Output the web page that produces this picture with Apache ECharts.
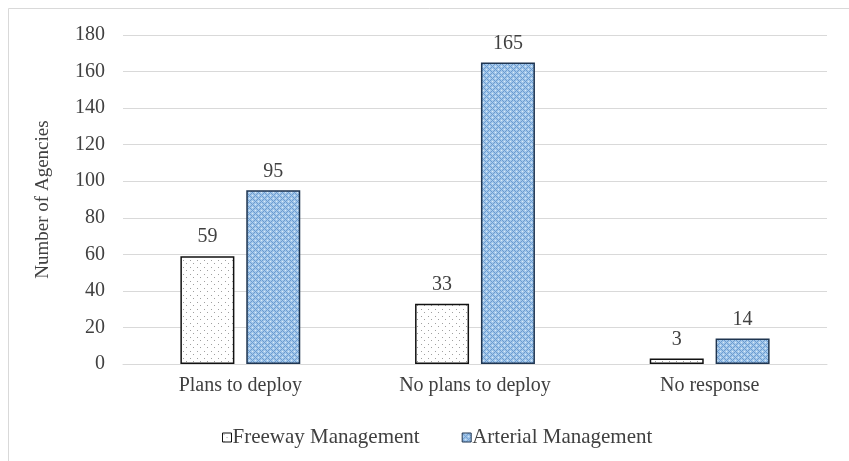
<!DOCTYPE html>
<html>
<head>
<meta charset="utf-8">
<script src="https://cdn.jsdelivr.net/npm/echarts@6/dist/echarts.min.js"></script>
<style>
  html, body { margin: 0; padding: 0; background: #fff; }
  #chart { width: 849px; height: 461px; }
</style>
</head>
<body>
<div id="chart"></div>
<script>
// Survey responses: deployment plans by agency type
const categories = ['Plans to deploy', 'No plans to deploy', 'No response'];
const freewayValues = [59, 33, 3];
const arterialValues = [95, 165, 14];
const seriesNames = ['Freeway Management', 'Arterial Management'];
const yTicks = { min: 0, max: 180, interval: 20 };

// Dotted fill for the freeway bars
function dotPattern() {
  const c = document.createElement('canvas');
  c.width = 7; c.height = 7;
  const g = c.getContext('2d');
  g.fillStyle = '#ffffff';
  g.fillRect(0, 0, 7, 7);
  g.fillStyle = '#a0a0a0';
  g.fillRect(1, 1, 1, 1);
  g.fillRect(4, 4, 1, 1);
  return c;
}

// Lattice fill for the arterial bars
function latticePattern() {
  const c = document.createElement('canvas');
  c.width = 6; c.height = 6;
  const g = c.getContext('2d');
  g.fillStyle = '#a3c7ea';
  g.fillRect(0, 0, 6, 6);
  g.fillStyle = '#6b9bd0';
  [[0,0],[1,1],[2,2],[4,2],[5,1],[3,3],[2,4],[1,5],[4,4],[5,5]].forEach(p => g.fillRect(p[0], p[1], 1, 1));
  g.fillStyle = '#dcebf8';
  g.fillRect(3, 0, 1, 1);
  g.fillRect(0, 3, 1, 1);
  return c;
}

const fontFamily = '"Liberation Serif", "Times New Roman", serif';
const textColor = '#404040';

const chart = echarts.init(document.getElementById('chart'), null, { renderer: 'canvas' });

const freewayFill = { image: dotPattern(), repeat: 'repeat' };
const arterialFill = { image: latticePattern(), repeat: 'repeat' };

chart.setOption({
  animation: false,
  backgroundColor: '#ffffff',
  graphic: [{
    type: 'rect',
    shape: { x: 8.5, y: 8.5, width: 900, height: 500 },
    style: { fill: 'none', stroke: '#d9d9d9', lineWidth: 1 },
    silent: true,
    z: -10
  }],
  grid: { left: 123, right: 22, top: 35, bottom: 97 },
  legend: {
    data: seriesNames,
    bottom: 8,
    left: 217,
    itemWidth: 9,
    itemHeight: 9,
    itemGap: 42,
    icon: 'rect',
    itemStyle: { borderWidth: 1 },
    textStyle: { fontFamily, fontSize: 21, color: textColor, padding: [0, 0, 0, -4] }
  },
  xAxis: {
    type: 'category',
    data: categories,
    axisLine: { lineStyle: { color: '#d9d9d9', width: 1 } },
    axisTick: { show: false },
    axisLabel: { fontFamily, fontSize: 20, color: textColor, margin: 12 }
  },
  yAxis: {
    type: 'value',
    min: yTicks.min,
    max: yTicks.max,
    interval: yTicks.interval,
    name: 'Number of Agencies',
    nameLocation: 'middle',
    nameGap: 70,
    nameTextStyle: { fontFamily, fontSize: 19, color: textColor },
    axisLine: { show: false },
    axisTick: { show: false },
    axisLabel: { fontFamily, fontSize: 20, color: textColor, margin: 18 },
    splitLine: { lineStyle: { color: '#d9d9d9', width: 1 } }
  },
  series: [
    {
      name: seriesNames[0],
      type: 'bar',
      data: freewayValues,
      barWidth: 54,
      barGap: '22%',
      itemStyle: { color: freewayFill, borderColor: '#111111', borderWidth: 1.5 },
      label: { show: true, position: 'top', distance: 9, fontFamily, fontSize: 20, color: textColor }
    },
    {
      name: seriesNames[1],
      type: 'bar',
      data: arterialValues,
      barWidth: 54,
      itemStyle: { color: arterialFill, borderColor: '#1f3550', borderWidth: 1.5 },
      label: { show: true, position: 'top', distance: 9, fontFamily, fontSize: 20, color: textColor }
    }
  ]
});
</script>
</body>
</html>
